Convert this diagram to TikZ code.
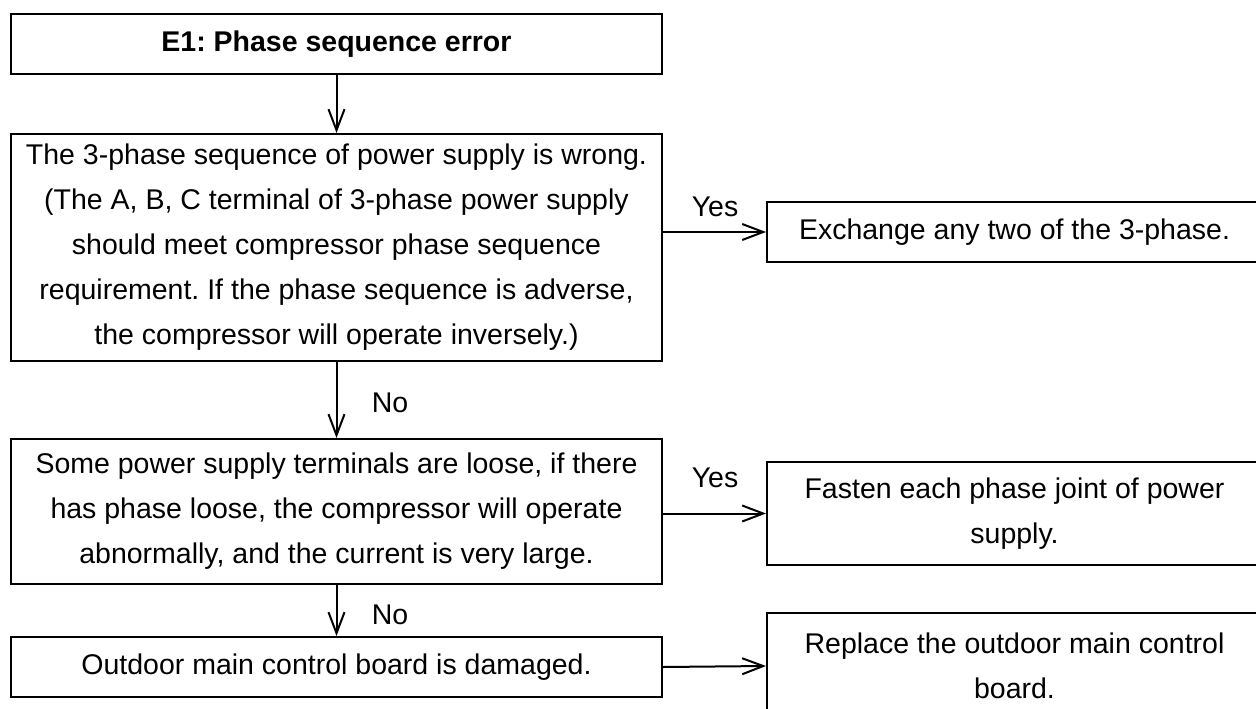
\documentclass[tikz,border=0pt]{standalone}
\usepackage{fontspec}
\setmainfont{Liberation Sans}
\usetikzlibrary{arrows.meta}
\frenchspacing
\begin{document}
\begin{tikzpicture}[x=1pt,y=-1pt,
  box/.style={draw, line width=2pt, inner sep=0pt, align=center,
    font=\fontsize{28.5}{45}\selectfont},
  arr/.style={line width=2pt, -{Straight Barb[length=21pt,width=16pt,line width=2pt]}},
  lbl/.style={font=\fontsize{28.5}{34}\selectfont, inner sep=0pt}]
\useasboundingbox (0,0) rectangle (1256,709);
\clip (0,0) rectangle (1256,709);
\node[box, minimum width=651pt, minimum height=60pt, font=\fontsize{28.5}{45}\selectfont\bfseries] (b1) at (336.5,44) {E1: Phase sequence error};
\node[box, minimum width=651pt, minimum height=227pt] (b2) at (336.5,247.5) {The 3-phase sequence of power supply is wrong.\\(The A, B, C terminal of 3-phase power supply\\should meet compressor phase sequence\\requirement. If the phase sequence is adverse,\\the compressor will operate inversely.)};
\node[box, minimum width=495pt, minimum height=60pt] (b3) at (1014.5,232) {Exchange any two of the 3-phase.};
\node[box, minimum width=651pt, minimum height=145pt] (b4) at (336.5,511.5) {Some power supply terminals are loose, if there\\has phase loose, the compressor will operate\\abnormally, and the current is very large.};
\node[box, minimum width=495pt, minimum height=103pt] (b5) at (1014.5,513.5) {Fasten each phase joint of power\\supply.};
\node[box, minimum width=651pt, minimum height=60pt] (b6) at (336.5,667) {Outdoor main control board is damaged.};
\node[box, minimum width=495pt, minimum height=106pt] (b7) at (1014.5,666) {Replace the outdoor main control\\board.};
\draw[arr] (b1.south) -- (b2.north);
\draw[arr] (b2.east |- b3.west) -- (b3.west);
\draw[arr] (b2.south) -- (b4.north);
\draw[arr] (b4.east |- b5.west) -- (b5.west);
\draw[arr] (b4.south) -- (b6.north);
\draw[arr] (b6.east) -- (b7.west);
\node[lbl] (y1) at (715,207) {Yes};
\node[lbl] (n1) at (390,403) {No};
\node[lbl] (y2) at (715,478) {Yes};
\node[lbl] (n2) at (390,615) {No};
\end{tikzpicture}
\end{document}
